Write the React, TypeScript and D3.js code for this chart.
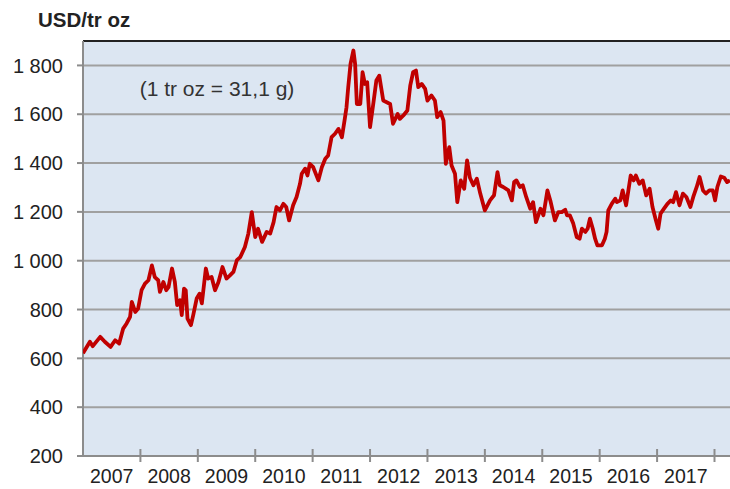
import React from "react";
import * as d3 from "d3";

const years = [
  2007.00, 2007.12, 2007.17, 2007.30, 2007.38, 2007.48, 2007.56, 2007.63, 2007.70, 2007.76,
  2007.82, 2007.85, 2007.91, 2007.96, 2008.02, 2008.08, 2008.14, 2008.20, 2008.25, 2008.31,
  2008.34, 2008.40, 2008.45, 2008.49, 2008.55, 2008.60, 2008.64, 2008.69, 2008.72, 2008.76,
  2008.79, 2008.82, 2008.88, 2008.92, 2008.98, 2009.03, 2009.07, 2009.14, 2009.18, 2009.24,
  2009.30, 2009.36, 2009.43, 2009.50, 2009.56, 2009.62, 2009.68, 2009.74, 2009.82, 2009.88,
  2009.94, 2010.00, 2010.05, 2010.12, 2010.20, 2010.26, 2010.32, 2010.37, 2010.43, 2010.49,
  2010.54, 2010.59, 2010.66, 2010.72, 2010.78, 2010.81, 2010.87, 2010.91, 2010.95, 2011.01,
  2011.10, 2011.16, 2011.22, 2011.27, 2011.33, 2011.39, 2011.45, 2011.51, 2011.56, 2011.59,
  2011.62, 2011.66, 2011.71, 2011.74, 2011.77, 2011.83, 2011.87, 2011.91, 2011.95, 2012.00,
  2012.06, 2012.11, 2012.16, 2012.23, 2012.29, 2012.35, 2012.40, 2012.44, 2012.48, 2012.52,
  2012.58, 2012.65, 2012.70, 2012.75, 2012.80, 2012.84, 2012.90, 2012.96, 2013.00, 2013.07,
  2013.13, 2013.17, 2013.23, 2013.28, 2013.32, 2013.38, 2013.42, 2013.48, 2013.52, 2013.58,
  2013.64, 2013.69, 2013.74, 2013.80, 2013.86, 2013.92, 2014.00, 2014.09, 2014.16, 2014.22,
  2014.26, 2014.32, 2014.41, 2014.47, 2014.51, 2014.55, 2014.61, 2014.66, 2014.72, 2014.79,
  2014.84, 2014.89, 2014.93, 2014.97, 2015.02, 2015.09, 2015.14, 2015.18, 2015.22, 2015.28,
  2015.34, 2015.40, 2015.43, 2015.48, 2015.54, 2015.60, 2015.65, 2015.69, 2015.75, 2015.79,
  2015.83, 2015.88, 2015.92, 2015.96, 2016.04, 2016.09, 2016.12, 2016.15, 2016.21, 2016.27,
  2016.30, 2016.36, 2016.40, 2016.46, 2016.50, 2016.54, 2016.59, 2016.63, 2016.69, 2016.75,
  2016.81, 2016.87, 2016.92, 2016.98, 2017.02, 2017.06, 2017.12, 2017.18, 2017.24, 2017.28,
  2017.33, 2017.39, 2017.45, 2017.51, 2017.58, 2017.63, 2017.69, 2017.74, 2017.80, 2017.85,
  2017.91, 2017.97, 2018.01, 2018.05, 2018.11, 2018.17, 2018.22, 2018.27,
];

const prices = [
  621, 668, 650, 688, 668, 647, 674, 661, 722, 743,
  770, 831, 790, 804, 879, 906, 920, 981, 933, 920,
  872, 913, 879, 892, 968, 913, 818, 838, 777, 886,
  879, 763, 736, 777, 845, 865, 825, 968, 927, 933,
  879, 913, 974, 927, 940, 954, 1002, 1015, 1056, 1111,
  1199, 1097, 1131, 1077, 1118, 1111, 1158, 1220, 1206, 1233,
  1220, 1165, 1227, 1261, 1315, 1356, 1377, 1349, 1397, 1383,
  1329, 1383, 1418, 1431, 1506, 1520, 1540, 1506, 1581, 1629,
  1711, 1806, 1861, 1806, 1642, 1642, 1772, 1724, 1731, 1547,
  1649, 1738, 1758, 1656, 1649, 1642, 1561, 1581, 1601, 1581,
  1595, 1615, 1717, 1772, 1779, 1711, 1724, 1704, 1656, 1677,
  1656, 1588, 1609, 1574, 1397, 1465, 1390, 1356, 1240, 1329,
  1295, 1411, 1340, 1309, 1336, 1275, 1206, 1247, 1268, 1363,
  1309, 1302, 1288, 1247, 1322, 1329, 1302, 1309, 1261, 1213,
  1240, 1158, 1186, 1213, 1186, 1288, 1247, 1206, 1165, 1199,
  1199, 1209, 1186, 1186, 1152, 1097, 1090, 1131, 1118, 1131,
  1172, 1131, 1090, 1063, 1063, 1090, 1118, 1206, 1233, 1254,
  1240, 1247, 1288, 1227, 1288, 1349, 1329, 1349, 1315, 1329,
  1268, 1295, 1220, 1165, 1131, 1193, 1213, 1233, 1247, 1240,
  1281, 1227, 1275, 1261, 1220, 1261, 1302, 1343, 1288, 1275,
  1288, 1288, 1247, 1302, 1345, 1340, 1322, 1329,
];

const yTicks = [200, 400, 600, 800, 1000, 1200, 1400, 1600, 1800];
const yearLabels = [2007, 2008, 2009, 2010, 2011, 2012, 2013, 2014, 2015, 2016, 2017];
const yearBounds = [2008, 2009, 2010, 2011, 2012, 2013, 2014, 2015, 2016, 2017, 2018];

const unitLabel = "USD/tr oz";
const note = "(1 tr oz = 31,1 g)";

export default function App() {
  const W = 730, H = 489;
  const left = 83, right = 730, top = 41, bottom = 456;
  const x = d3.scaleLinear().domain([2007, 2018.27]).range([left, right]);
  const y = d3.scaleLinear().domain([200, 1900]).range([bottom, top]);
  const data = years.map((yr, i) => ({ yr, v: prices[i] }));
  const line = d3.line<{ yr: number; v: number }>()
    .x((d) => x(d.yr))
    .y((d) => y(d.v))
    .curve(d3.curveLinear);
  const font = "'Liberation Sans', Arial, sans-serif";
  const fmt = (v: number) => (v >= 1000 ? `${Math.floor(v / 1000)} ${String(v % 1000).padStart(3, "0")}` : String(v));

  return (
    <svg width={W} height={H} style={{ position: "absolute", left: 0, top: 0, background: "#fff" }} fontFamily={font}>
      <defs>
        <clipPath id="plotclip">
          <rect x={left} y={top} width={right - left} height={bottom - top} />
        </clipPath>
      </defs>
      <rect x={left} y={top} width={right - left} height={bottom - top} fill="#dce6f2" />
      {yTicks.filter((t) => t > 200).map((t) => (
        <line key={t} x1={left} x2={right} y1={y(t)} y2={y(t)} stroke="#a0a0a0" strokeWidth={2} />
      ))}
      <line x1={left} x2={right} y1={top} y2={top} stroke="#222" strokeWidth={2} />
      <line x1={left} x2={left} y1={top} y2={bottom + 1} stroke="#8c8c8c" strokeWidth={2} />
      <line x1={left - 6} x2={right} y1={bottom} y2={bottom} stroke="#8c8c8c" strokeWidth={2} />
      {yTicks.map((t) => (
        <g key={t}>
          <line x1={left - 6} x2={left} y1={y(t)} y2={y(t)} stroke="#8c8c8c" strokeWidth={2} />
          <text x={63} y={y(t)} dy="0.36em" textAnchor="end" fontSize={20} fill="#222">
            {fmt(t)}
          </text>
        </g>
      ))}
      {yearBounds.map((b) => (
        <line key={b} x1={x(b)} x2={x(b)} y1={bottom - 7} y2={bottom + 6} stroke="#8c8c8c" strokeWidth={2} />
      ))}
      {yearLabels.map((yr) => (
        <text key={yr} x={x(yr + 0.5)} y={483} textAnchor="middle" fontSize={19.5} fill="#222">
          {yr}
        </text>
      ))}
      <text x={38} y={27} fontSize={20.5} fontWeight="bold" fill="#222">
        {unitLabel}
      </text>
      <text x={217} y={96} textAnchor="middle" fontSize={21} fill="#333">
        {note}
      </text>
      <path d={line(data) ?? ""} fill="none" stroke="#c00000" strokeWidth={3.8} strokeLinejoin="round" clipPath="url(#plotclip)" />
    </svg>
  );
}
